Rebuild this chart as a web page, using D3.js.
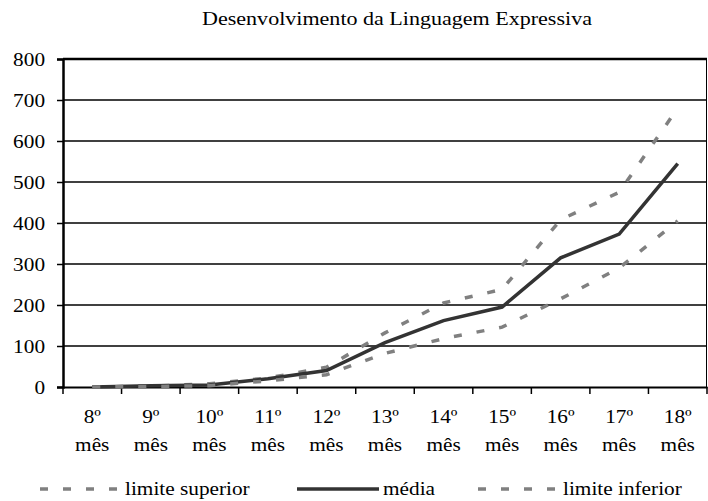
<!DOCTYPE html>
<html>
<head>
<meta charset="utf-8">
<script src="https://cdn.jsdelivr.net/npm/d3@7"></script>
<style>
  body { margin: 0; background: #fff; }
</style>
</head>
<body>
<svg id="chart" width="708" height="501"></svg>
<script>
// chart data
var months = ["8º", "9º", "10º", "11º", "12º", "13º", "14º", "15º", "16º", "17º", "18º"];
var monthWord = "mês";
var limiteSuperior = [0, 2, 8, 22, 48, 132, 205, 238, 408, 475, 680];
var media = [0, 3, 5, 20, 40, 108, 162, 195, 315, 373, 545];
var limiteInferior = [0, 1, 3, 15, 30, 82, 118, 146, 215, 290, 405];
var yTicks = [0, 100, 200, 300, 400, 500, 600, 700, 800];

var svg = d3.select("#chart");
var serif = "'Liberation Serif', 'Times New Roman', Times, serif";

var plotLeft = 63, plotRight = 707, plotTop = 59, plotBottom = 387;

var x = d3.scaleBand().domain(months).range([plotLeft, plotRight]);
var y = d3.scaleLinear().domain([0, 800]).range([plotBottom, plotTop]);

// serif font, slightly widened like the original
function styleText(sel, size, stretch) {
    stretch = stretch || 1.12;
    sel.style("font-family", serif)
        .style("font-size", size + "px")
        .style("fill", "#000");
    sel.each(function() {
        var len = this.getComputedTextLength();
        d3.select(this).attr("textLength", len * stretch).attr("lengthAdjust", "spacingAndGlyphs");
    });
}

// title
svg.append("text")
    .attr("x", 397).attr("y", 25)
    .attr("text-anchor", "middle")
    .text("Desenvolvimento da Linguagem Expressiva")
    .call(styleText, 19, 1.16);

// grid lines
svg.append("g").selectAll("line")
    .data(yTicks.filter(function(d) { return d > 0; }))
    .enter().append("line")
    .attr("x1", plotLeft).attr("x2", plotRight)
    .attr("y1", function(d) { return y(d); })
    .attr("y2", function(d) { return y(d); })
    .attr("stroke", "#000")
    .attr("stroke-width", function(d) { return d == 800 ? 2.5 : 1.5; });

// right border
svg.append("line")
    .attr("x1", plotRight - 0.5).attr("x2", plotRight - 0.5)
    .attr("y1", plotTop).attr("y2", plotBottom)
    .attr("stroke", "#000").attr("stroke-width", 1);

// y axis
var yAxis = svg.append("g")
    .attr("transform", "translate(" + plotLeft + ",0)")
    .call(d3.axisLeft(y).tickValues(yTicks).tickSize(6).tickPadding(12));
yAxis.select(".domain").attr("stroke-width", 2.5);
yAxis.selectAll(".tick line").attr("stroke-width", 1.5);
yAxis.selectAll("text").call(styleText, 19);

// x axis
var xAxis = svg.append("g")
    .attr("transform", "translate(0," + plotBottom + ")")
    .call(d3.axisBottom(x).tickSize(0).tickFormat(""));
xAxis.select(".domain").attr("stroke-width", 2);
xAxis.selectAll(".tick").remove();

var bounds = months.map(function(m) { return x(m); }).concat([plotRight]);
xAxis.selectAll(".bound")
    .data(bounds)
    .enter().append("line")
    .attr("class", "bound")
    .attr("x1", function(d) { return d; })
    .attr("x2", function(d) { return d; })
    .attr("y1", 0).attr("y2", 7)
    .attr("stroke", "#000").attr("stroke-width", 1.5);

var labels = svg.append("g").selectAll("g")
    .data(months)
    .enter().append("g");
labels.append("text")
    .attr("x", function(d) { return x(d) + x.bandwidth() / 2; })
    .attr("y", 423)
    .attr("text-anchor", "middle")
    .text(function(d) { return d; })
    .call(styleText, 19);
labels.append("text")
    .attr("x", function(d) { return x(d) + x.bandwidth() / 2; })
    .attr("y", 451)
    .attr("text-anchor", "middle")
    .text(monthWord)
    .call(styleText, 19);

// series
var line = d3.line()
    .x(function(d, i) { return x(months[i]) + x.bandwidth() / 2; })
    .y(function(d) { return y(d); });

var series = [
    { name: "limite superior", values: limiteSuperior, color: "#808080", dash: "8,15", width: 3.5 },
    { name: "média", values: media, color: "#333333", dash: null, width: 3.5 },
    { name: "limite inferior", values: limiteInferior, color: "#808080", dash: "8,15", width: 3.5 }
];

svg.append("g").selectAll("path")
    .data(series)
    .enter().append("path")
    .attr("d", function(d) { return line(d.values); })
    .attr("fill", "none")
    .attr("stroke", function(d) { return d.color; })
    .attr("stroke-width", function(d) { return d.width; })
    .attr("stroke-dasharray", function(d) { return d.dash; });

// legend
var legendPos = [
    { x1: 40, x2: 118, tx: 125 },
    { x1: 297, x2: 379, tx: 383 },
    { x1: 478, x2: 558, tx: 563 }
];
var legend = svg.append("g").selectAll("g")
    .data(series)
    .enter().append("g");
legend.append("line")
    .attr("x1", function(d, i) { return legendPos[i].x1; })
    .attr("x2", function(d, i) { return legendPos[i].x2; })
    .attr("y1", 489).attr("y2", 489)
    .attr("stroke", function(d) { return d.color; })
    .attr("stroke-width", function(d) { return d.width; })
    .attr("stroke-dasharray", function(d) { return d.dash; });
legend.append("text")
    .attr("x", function(d, i) { return legendPos[i].tx; })
    .attr("y", 495)
    .text(function(d) { return d.name; })
    .call(styleText, 19);
</script>
</body>
</html>
